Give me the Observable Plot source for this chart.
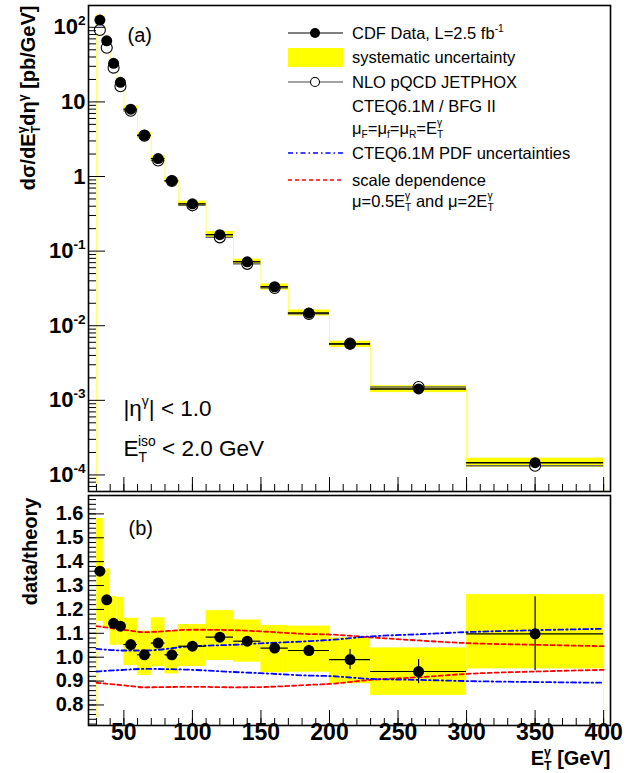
<!DOCTYPE html>
<html><head><meta charset="utf-8">
<script src="https://cdn.jsdelivr.net/npm/d3@7"></script>
<script src="https://cdn.jsdelivr.net/npm/@observablehq/plot@0.6"></script>
<style>
body{margin:0;background:#fff;}
#chart{position:relative;width:634px;height:773px;font-family:"Liberation Sans",Arial,sans-serif;}
#chart svg{position:absolute;left:0;overflow:visible;background:none;}
</style></head><body><div id="chart"></div>
<script>
// ---- data ----
const binLo     = [30,35,40,45,50,60,70,80,90,110,130,150,170,200,230,300];
const binHi     = [35,40,45,50,60,70,80,90,110,130,150,170,200,230,300,400];
const binCenter = [32.5,37.5,42.5,47.5,55,65,75,85,100,120,140,160,185,215,265,350];
const dataXsec   = [125,66,32.9,18.3,8.0,3.57,1.74,0.88,0.43,0.166,0.072,0.0333,0.0148,0.00569,0.00142,0.000146];
const theoryXsec = [92,53.2,28.8,16.2,7.6,3.53,1.64,0.871,0.411,0.153,0.0675,0.0321,0.0144,0.00575,0.00151,0.000133];
const ratio      = [1.36,1.24,1.142,1.13,1.053,1.01,1.059,1.01,1.046,1.084,1.067,1.038,1.028,0.99,0.94,1.098];
const ratioStat  = [0.01,0.01,0.01,0.01,0.01,0.01,0.012,0.012,0.012,0.015,0.017,0.02,0.022,0.042,0.05,0.155];
const sysLo      = [1.15,1.12,1.05,1.05,0.965,0.923,0.96,0.93,0.961,0.986,0.979,0.935,0.937,0.889,0.84,0.951];
const sysHi      = [1.58,1.37,1.255,1.25,1.163,1.109,1.165,1.109,1.137,1.195,1.156,1.133,1.13,1.081,1.039,1.262];
const curveX     = [30,50,65,100,130,150,185,200,230,265,300,350,400];
const scaleUp    = [1.13,1.115,1.105,1.115,1.113,1.108,1.097,1.095,1.083,1.07,1.059,1.052,1.046];
const scaleDown  = [0.893,0.882,0.874,0.876,0.874,0.875,0.884,0.888,0.905,0.916,0.93,0.94,0.947];
const pdfUp      = [1.035,1.028,1.028,1.046,1.052,1.058,1.067,1.072,1.087,1.096,1.105,1.113,1.119];
const pdfDown    = [0.94,0.947,0.951,0.947,0.938,0.933,0.923,0.921,0.909,0.905,0.9,0.896,0.893];
const decades = [-4,-3,-2,-1,0,1,2];
const xTickLabels = [50,100,150,200,250,300,350,400];
const ratioTickLabels = [0.8,0.9,1.0,1.1,1.2,1.3,1.4,1.5,1.6];

// ---- tables built from the arrays ----
const bins = binLo.map((lo,i)=>({lo, hi:binHi[i], c:binCenter[i], d:dataXsec[i], t:theoryXsec[i],
  r:ratio[i], s:ratioStat[i], sl:sysLo[i], sh:sysHi[i]}));
const xDomain = [24.2,405];
const yTopDomain = [6e-5,196];
const yBotDomain = [0.714,1.677];
const stepTop = [{x:binLo[0],y:yTopDomain[0]}, ...bins.flatMap(b=>[{x:b.lo,y:b.d},{x:b.hi,y:b.d}]), {x:binHi[binHi.length-1],y:yTopDomain[0]}];
const stepBot = [{x:binLo[0],y:yBotDomain[0]}, ...bins.flatMap(b=>[{x:b.lo,y:b.r},{x:b.hi,y:b.r}]), {x:binHi[binHi.length-1],y:yBotDomain[0]}];
const curves = [
  ...curveX.map((x,i)=>({x,y:scaleUp[i],k:"su"})), ...curveX.map((x,i)=>({x,y:scaleDown[i],k:"sd"})),
];
const pdfCurves = [
  ...curveX.map((x,i)=>({x,y:pdfUp[i],k:"pu"})), ...curveX.map((x,i)=>({x,y:pdfDown[i],k:"pd"})),
];
const logMinor = [];
for (let k=-5;k<=2;k++) for (let m=2;m<=9;m++){const v=m*10**k; if(v>yTopDomain[0]&&v<yTopDomain[1]) logMinor.push(v);}
const logMajor = decades.map(d=>10**d);
const xMinor = d3.range(30,401,10);
const xMajor = d3.range(50,401,50);
const rMinor = d3.range(36,84).map(i=>+(i*0.02).toFixed(2)).filter(v=>v>yBotDomain[0]&&v<yBotDomain[1]);
const rMajor = ratioTickLabels;

const W=634, ML=88, MR=24;
const PW = W-ML-MR;
const TOPH=493, TMT=5, TMB=2, TPH=TOPH-TMT-TMB;
const BOTH=280, BMT=2, BMB=48, BPH=BOTH-BMT-BMB;
const FONT='"Liberation Sans",Arial,sans-serif';

const topPlot = Plot.plot({
  width:W, height:TOPH, marginLeft:ML, marginRight:MR, marginTop:TMT, marginBottom:TMB,
  style:{fontFamily:FONT, background:"transparent"},
  x:{domain:xDomain, axis:null},
  y:{type:"log", domain:yTopDomain, axis:null},
  marks:[
    Plot.rect(bins,{x1:"lo",x2:"hi",y1:d=>d.d*d.sl/d.r,y2:d=>d.d*d.sh/d.r,fill:"#ffff00"}),
    Plot.line(stepTop,{x:"x",y:"y",stroke:"#ffff40",strokeWidth:0.8}),
    Plot.ruleY(bins,{y:"t",x1:"lo",x2:"hi",stroke:"#666",strokeWidth:1.4}),
    Plot.ruleY(bins,{y:"d",x1:"lo",x2:"hi",stroke:"black",strokeWidth:1.4}),
    Plot.dot(bins,{x:"c",y:"t",r:5.5,fill:"white",stroke:"black",strokeWidth:1.1}),
    Plot.dot(bins,{x:"c",y:"d",r:5.5,fill:"black"}),
    Plot.tickY(logMinor,{y:d=>d,insetRight:PW-8,stroke:"black",strokeWidth:1}),
    Plot.tickY(logMajor,{y:d=>d,insetRight:PW-17,stroke:"black",strokeWidth:1}),
    Plot.tickX(xMinor,{x:d=>d,insetTop:TPH-7,stroke:"black",strokeWidth:1}),
    Plot.tickX(xMajor,{x:d=>d,insetTop:TPH-14,stroke:"black",strokeWidth:1}),
    Plot.frame({stroke:"black",strokeWidth:1.6}),
    Plot.text(decades,{y:d=>10**d,text:d=>d===0?"1":d===1?"10":`10^{${d}}`,frameAnchor:"left",textAnchor:"end",dx:-3,fontSize:22,fontWeight:"bold"}),
    Plot.text(["dσ/dE_{T}^{γ}dη^{γ} [pb/GeV]"],{frameAnchor:"top-left",rotate:-90,textAnchor:"end",lineAnchor:"bottom",dx:34.5-ML,dy:0,fontSize:20,fontWeight:"bold"}),
    Plot.text(["(a)"],{frameAnchor:"top-left",textAnchor:"start",lineAnchor:"bottom",dx:39,dy:41-TMT,fontSize:20}),
    Plot.text(["|η^{γ}| < 1.0"],{frameAnchor:"bottom-left",textAnchor:"start",lineAnchor:"bottom",dx:35,dy:415-491,fontSize:22.5}),
    Plot.text(["E_{T}^{iso} < 2.0 GeV"],{frameAnchor:"bottom-left",textAnchor:"start",lineAnchor:"bottom",dx:35,dy:455-491,fontSize:22.5})
  ]
});

const botPlot = Plot.plot({
  width:W, height:BOTH, marginLeft:ML, marginRight:MR, marginTop:BMT, marginBottom:BMB,
  style:{fontFamily:FONT, background:"transparent"},
  x:{domain:xDomain, axis:null},
  y:{domain:yBotDomain, axis:null},
  marks:[
    Plot.rect(bins,{x1:"lo",x2:"hi",y1:"sl",y2:"sh",fill:"#ffff00"}),
    Plot.line(stepBot,{x:"x",y:"y",stroke:"#ffff40",strokeWidth:0.8}),
    Plot.line(curves,{x:"x",y:"y",z:"k",stroke:"#ff0000",strokeWidth:1.8,strokeDasharray:"4,3",curve:"monotone-x"}),
    Plot.line(pdfCurves,{x:"x",y:"y",z:"k",stroke:"#0000ff",strokeWidth:1.8,strokeDasharray:"5,3,1.5,3",curve:"monotone-x"}),
    Plot.ruleY(bins,{y:"r",x1:"lo",x2:"hi",stroke:"black",strokeWidth:1.2}),
    Plot.ruleX(bins,{x:"c",y1:d=>d.r-d.s,y2:d=>d.r+d.s,stroke:"black",strokeWidth:1.2}),
    Plot.dot(bins,{x:"c",y:"r",r:5.5,fill:"black"}),
    Plot.tickY(rMinor,{y:d=>d,insetRight:PW-8,stroke:"black",strokeWidth:1}),
    Plot.tickY(rMajor,{y:d=>d,insetRight:PW-16,stroke:"black",strokeWidth:1}),
    Plot.tickX(xMinor,{x:d=>d,insetTop:BPH-7,stroke:"black",strokeWidth:1}),
    Plot.tickX(xMajor,{x:d=>d,insetTop:BPH-15,stroke:"black",strokeWidth:1}),
    Plot.frame({stroke:"black",strokeWidth:1.6}),
    Plot.text(ratioTickLabels,{y:d=>d,text:d=>d.toFixed(1),frameAnchor:"left",textAnchor:"end",dx:-5,fontSize:20,fontWeight:"bold"}),
    Plot.text(xTickLabels,{x:d=>d,text:d=>String(d),frameAnchor:"bottom",lineAnchor:"bottom",dy:739-725,fontSize:23,fontWeight:"bold"}),
    Plot.text(["data/theory"],{frameAnchor:"top-left",rotate:-90,textAnchor:"end",lineAnchor:"bottom",dx:36-ML,dy:2,fontSize:20,fontWeight:"bold"}),
    Plot.text(["E_{T}^{γ} [GeV]"],{frameAnchor:"bottom-right",textAnchor:"end",lineAnchor:"bottom",dx:0,dy:764-725,fontSize:20,fontWeight:"bold"}),
    Plot.text(["(b)"],{frameAnchor:"top-left",textAnchor:"start",lineAnchor:"bottom",dx:40,dy:534-495,fontSize:20})
  ]
});

const chart = document.getElementById("chart");
topPlot.style.top = "0px";
botPlot.style.top = TOPH + "px";
chart.appendChild(topPlot);
chart.appendChild(botPlot);

// ---- legend (layout only) ----
const legendRows = [
  {sym:"data", sy:33, ty:39, text:"CDF Data, L=2.5 fb^{-1}"},
  {sym:"band", sy:57.5, ty:63, text:"systematic uncertainty"},
  {sym:"theory", sy:82, ty:87.5, text:"NLO pQCD JETPHOX"},
  {sym:null, ty:111.5, text:"CTEQ6.1M / BFG II"},
  {sym:null, ty:133.5, text:"μ_{F}=μ_{f}=μ_{R}=E_{T}^{γ}"},
  {sym:"pdf", sy:153, ty:158.5, text:"CTEQ6.1M PDF uncertainties"},
  {sym:"scale", sy:180, ty:185.5, text:"scale dependence"},
  {sym:null, ty:206.5, text:"μ=0.5E_{T}^{γ} and μ=2E_{T}^{γ}"}
];
const lg = d3.select(topPlot).append("g").attr("font-family",FONT).attr("font-size",16.5).attr("text-anchor","start");
const sx0=288, sx1=343, sxm=315, tx=352;
legendRows.forEach(r=>{
  if (r.sym==="data"||r.sym==="theory"){
    lg.append("line").attr("x1",sx0).attr("x2",sx1).attr("y1",r.sy).attr("y2",r.sy).attr("stroke",r.sym==="data"?"black":"#444").attr("stroke-width",1.2);
    lg.append("circle").attr("cx",sxm).attr("cy",r.sy).attr("r",r.sym==="data"?5:4.5)
      .attr("fill",r.sym==="data"?"black":"white").attr("stroke","black").attr("stroke-width",r.sym==="data"?0:1.1);
  } else if (r.sym==="band"){
    lg.append("rect").attr("x",sx0).attr("y",48).attr("width",sx1-sx0).attr("height",19).attr("fill","#ffff00");
  } else if (r.sym==="pdf"){
    lg.append("line").attr("x1",sx0).attr("x2",sx1).attr("y1",r.sy).attr("y2",r.sy).attr("stroke","#0000ff").attr("stroke-width",1.6).attr("stroke-dasharray","5,3,1.5,3");
  } else if (r.sym==="scale"){
    lg.append("line").attr("x1",sx0).attr("x2",sx1).attr("y1",r.sy).attr("y2",r.sy).attr("stroke","#ff0000").attr("stroke-width",1.6).attr("stroke-dasharray","4,3");
  }
  lg.append("text").attr("x",tx).attr("y",r.ty).attr("text-anchor","start").text(r.text);
});

// ---- rich text: ^{sup}, _{sub}, _{sub}^{sup} stacked ----
function richify(root){
  const NS="http://www.w3.org/2000/svg";
  root.querySelectorAll("text").forEach(t=>{
    const s=t.textContent;
    if(!/[\^_]\{/.test(s)) return;
    const fs=parseFloat(getComputedStyle(t).fontSize)||16;
    const small=fs*0.62;
    while(t.firstChild) t.removeChild(t.firstChild);
    t.style.whiteSpace="pre";
    const re=/_\{([^}]*)\}\^\{([^}]*)\}|\^\{([^}]*)\}|_\{([^}]*)\}|([^_^]+)/g;
    let m, cur=0, pend=0;
    const add=(txt,shift,size,dx)=>{
      const ts=document.createElementNS(NS,"tspan");
      ts.textContent=txt;
      const dy=shift-cur; cur=shift;
      if(dy) ts.setAttribute("dy",dy);
      const ddx=(dx||0)+pend; pend=0;
      if(ddx) ts.setAttribute("dx",ddx);
      if(size) ts.setAttribute("font-size",size);
      t.appendChild(ts);
      return ts;
    };
    while((m=re.exec(s))){
      if(m[1]!==undefined){
        const a=add(m[1],fs*0.27,small);
        const wa=a.getComputedTextLength();
        const b=add(m[2],-fs*0.43,small,-wa);
        const wb=b.getComputedTextLength();
        if(wa>wb) pend=wa-wb;
      } else if(m[3]!==undefined) add(m[3],-fs*0.42,small);
      else if(m[4]!==undefined) add(m[4],fs*0.25,small);
      else add(m[5],0,null);
    }
  });
}
richify(topPlot); richify(botPlot);
</script></body></html>
